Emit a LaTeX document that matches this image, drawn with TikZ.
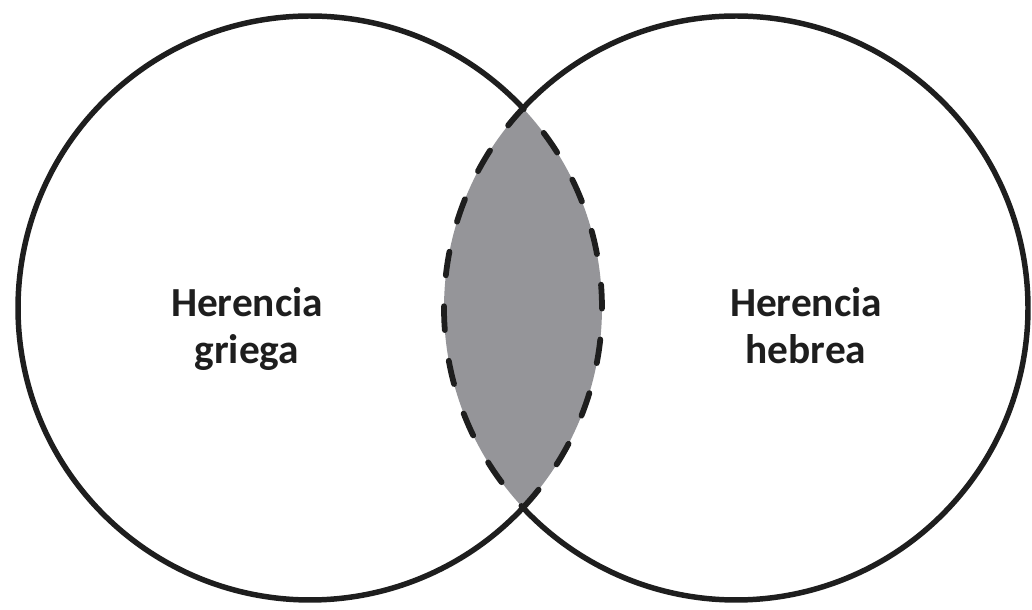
\documentclass[tikz,border=0pt]{standalone}
\usepackage{fontspec}
\setmainfont{Carlito}
\usepackage{xcolor}
\definecolor{lensgray}{RGB}{149,149,153}
\definecolor{inkblack}{RGB}{30,30,30}
\usepackage{tikz}
\usetikzlibrary{calc}

\begin{document}
\begin{tikzpicture}[x=0.025cm,y=0.025cm,
    ring/.style={line width=3.9pt,inkblack},
    lensline/.style={line width=4.1pt,inkblack,line cap=round,dash pattern=on 17pt off 22pt},
    label/.style={font=\fontsize{29.4}{33.6}\selectfont\bfseries,text=inkblack,align=center,anchor=base,inner sep=0pt}]
            \def\r{292}
            \pgfmathsetmacro{\a}{acos(213/\r)}
            \useasboundingbox (0,0) rectangle (1032,610);
            \coordinate (L) at (310,302);
            \coordinate (R) at (736,302);
            % outer arcs of both circles
            \draw[ring] ($(L)+(\a:\r)$) arc[start angle=\a, end angle=360-\a, radius=\r];
            \draw[ring] ($(R)+(180-\a:\r)$) arc[start angle=180-\a, end angle=-180+\a, radius=\r];
            % shared part
            \filldraw[lensline,fill=lensgray] ($(L)+(-\a:\r)$) arc[start angle=-\a, end angle=\a, radius=\r]
                arc[start angle=180-\a, end angle=180+\a, radius=\r] -- cycle;
            \node[label] (griega) at (247,246) {Herencia\\griega};
            \node[label] (hebrea) at (806,246) {Herencia\\hebrea};
        \end{tikzpicture}
\end{document}
